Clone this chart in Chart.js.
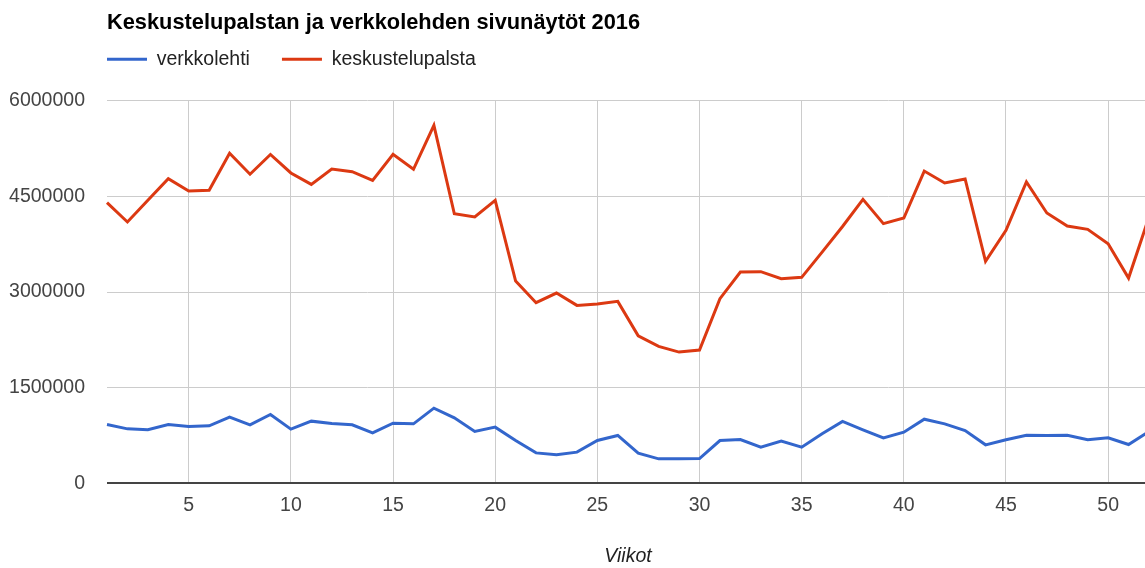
<!DOCTYPE html>
<html lang="fi">
<head>
    <meta charset="UTF-8">
    <title>Sivunäytöt 2016</title>
    <style>
        * { margin: 0; padding: 0; box-sizing: border-box; }
        body { background: #fff; overflow: hidden; width: 1145px; height: 568px; }
        /* plot runs a bit past the window on the right, like the original screenshot */
        .chart-box { position: absolute; left: 0; top: 0; width: 1160px; height: 568px; }
    </style>
</head>
<body>
<div class="chart-box">
    <canvas id="lineChart"></canvas>
</div>

<script src="https://cdn.jsdelivr.net/npm/chart.js"></script>
<script>
    // viikot 1-52
    const weeks = [];
    for (let w = 1; w <= 52; w++) weeks.push(w);

    const yTicks = [0, 1500000, 3000000, 4500000, 6000000];

    const verkkolehti = [
        920000, 853000, 838000, 920000, 890000, 900000, 1037000, 916000, 1079000, 848000,
        974000, 937000, 916000, 791000, 942000, 932000, 1178000, 1026000, 812000, 880000,
        670000, 476000, 445000, 487000, 670000, 749000, 471000, 382000, 382000, 387000,
        670000, 686000, 565000, 660000, 565000, 775000, 969000, 838000, 712000, 800000,
        1005000, 932000, 827000, 602000, 681000, 754000, 749000, 754000, 681000, 712000,
        607000, 810000
    ];

    const keskustelupalsta = [
        4403000, 4100000, 4440000, 4780000, 4587000, 4597000, 5180000, 4850000, 5160000, 4870000,
        4690000, 4930000, 4890000, 4754000, 5163000, 4927000, 5618000, 4230000, 4178000, 4440000,
        3173000, 2833000, 2985000, 2791000, 2812000, 2854000, 2314000, 2147000, 2058000, 2089000,
        2896000, 3314000, 3320000, 3210000, 3231000, 3628000, 4030000, 4456000, 4074000, 4163000,
        4900000, 4712000, 4775000, 3482000, 3969000, 4728000, 4241000, 4037000, 3985000, 3759000,
        3220000, 4180000
    ];

    const FONT = "'Liberation Sans', Arial, sans-serif";

    // legend sits flush with the plot's left edge and closer to the title
    const legendShift = {
        id: 'legendShift',
        afterLayout(chart) {
            const lg = chart.legend;
            const pad = lg.options.labels.padding;
            lg.left -= pad;
            lg.right -= pad;
            lg.top -= 22;
            lg.bottom -= 22;
        }
    };

    const ctx = document.getElementById('lineChart').getContext('2d');
    new Chart(ctx, {
        type: 'line',
        data: {
            labels: weeks,
            datasets: [
                {
                    label: 'verkkolehti',
                    data: verkkolehti,
                    borderColor: '#3366cc',
                    backgroundColor: '#3366cc',
                    borderWidth: 3,
                    pointRadius: 0,
                    tension: 0
                },
                {
                    label: 'keskustelupalsta',
                    data: keskustelupalsta,
                    borderColor: '#dc3912',
                    backgroundColor: '#dc3912',
                    borderWidth: 3,
                    pointRadius: 0,
                    tension: 0
                }
            ]
        },
        options: {
            responsive: true,
            maintainAspectRatio: false,
            animation: false,
            layout: { padding: { left: 0, right: 7, top: 0, bottom: 0 } },
            plugins: {
                title: {
                    display: true,
                    text: 'Keskustelupalstan ja verkkolehden sivunäytöt 2016',
                    align: 'start',
                    fullSize: false,
                    color: '#000',
                    font: { family: FONT, size: 21.8, weight: 'bold' },
                    padding: { top: 10, bottom: 3.3 }
                },
                legend: {
                    position: 'top',
                    align: 'start',
                    fullSize: false,
                    labels: {
                        boxWidth: 40,
                        boxHeight: 3,
                        padding: 32,
                        color: '#222',
                        font: { family: FONT, size: 19.5 },
                        generateLabels(chart) {
                            const items = Chart.defaults.plugins.legend.labels.generateLabels(chart);
                            items.forEach(it => { it.lineWidth = 0; });
                            return items;
                        }
                    }
                },
                tooltip: { enabled: false }
            },
            scales: {
                x: {
                    type: 'category',
                    offset: false,
                    border: { display: false },
                    grid: {
                        drawTicks: false,
                        color: c => (weeks[c.index] % 5 === 0 ? '#cccccc' : 'rgba(0,0,0,0)'),
                        lineWidth: 1
                    },
                    ticks: {
                        autoSkip: false,
                        maxRotation: 0,
                        padding: 11,
                        color: '#444',
                        font: { family: FONT, size: 19.5 },
                        callback: (val, i) => (weeks[i] % 5 === 0 ? String(weeks[i]) : '')
                    },
                    title: {
                        display: true,
                        text: 'Viikot',
                        color: '#222',
                        font: { family: FONT, size: 19.5, style: 'italic' },
                        padding: { top: 16, bottom: 0 }
                    }
                },
                y: {
                    min: 0,
                    max: 6000000,
                    border: { display: false },
                    afterFit(scale) { scale.width = 107; },
                    afterBuildTicks(scale) {
                        scale.ticks = yTicks.map(v => ({ value: v }));
                    },
                    grid: {
                        drawTicks: false,
                        color: c => (c.tick && c.tick.value === 0 ? '#444' : '#cccccc'),
                        lineWidth: c => (c.tick && c.tick.value === 0 ? 2 : 1)
                    },
                    ticks: {
                        padding: 22,
                        color: '#444',
                        font: { family: FONT, size: 19.5 },
                        callback: v => String(v)
                    }
                }
            }
        },
        plugins: [legendShift]
    });
</script>
</body>
</html>
